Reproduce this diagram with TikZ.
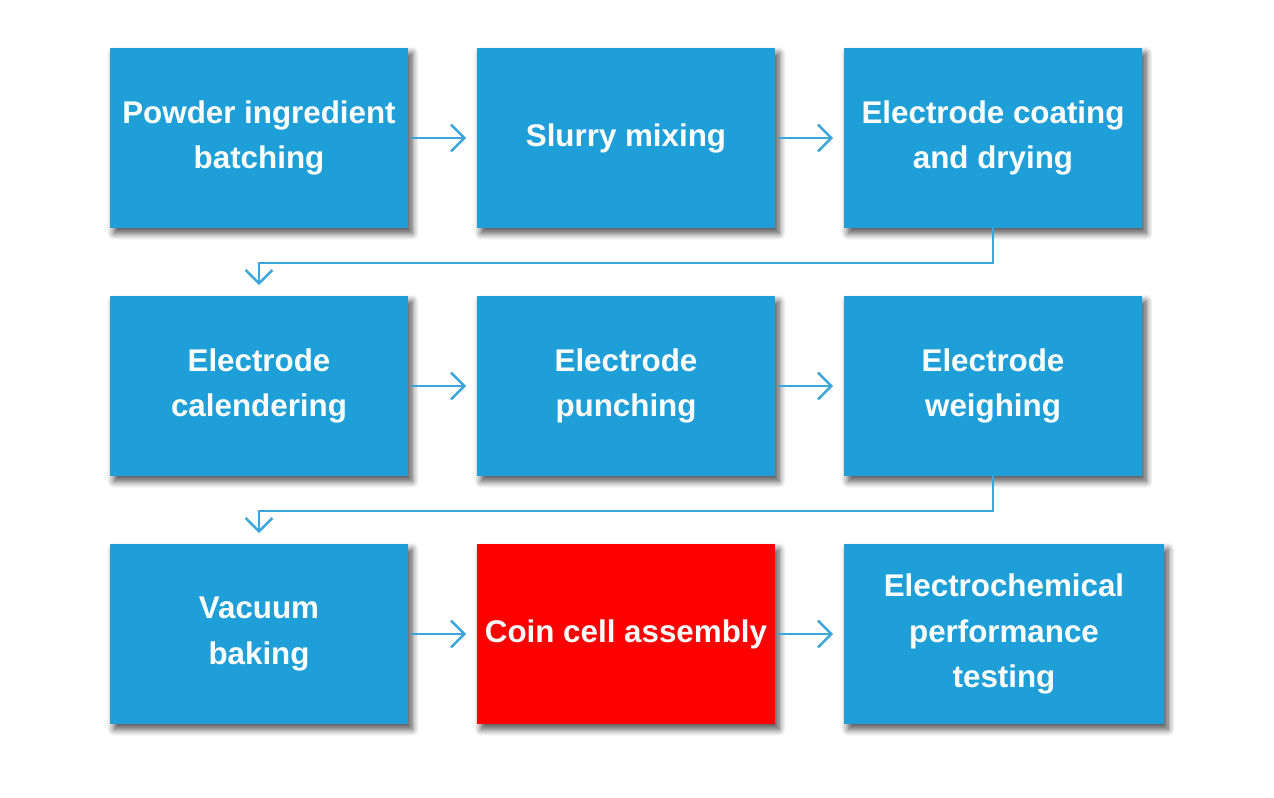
\documentclass[tikz,border=0pt]{standalone}
\usepackage{fontspec}
\setmainfont{Liberation Sans}
\usetikzlibrary{arrows.meta,shadows.blur}
\begin{document}
\begin{tikzpicture}[x=0.75pt,y=-0.75pt,
  box/.style={fill=boxc,draw=none,minimum width=298*0.75pt,minimum height=180*0.75pt,inner sep=0pt,
    align=center,text=white,font=\fontsize{23.5}{34}\selectfont\bfseries,
    blur shadow={shadow xshift=3pt,shadow yshift=-4pt,shadow blur radius=5pt,shadow blur steps=8,shadow opacity=70}},
  conn/.style={draw=arrc,line width=1.8pt,-{Straight Barb[length=10pt,width=20pt,line width=1.8pt]}}]
\definecolor{boxc}{HTML}{1E9FD8}
\definecolor{arrc}{HTML}{3AA6DC}
\definecolor{redc}{HTML}{FF0000}
\useasboundingbox (0,0) rectangle (1274,798);
\node[box] (a) at (259,138) {Powder ingredient\\batching};
\node[box] (b) at (626,138) {Slurry mixing};
\node[box] (c) at (993,138) {Electrode coating\\and drying};
\node[box] (d) at (259,386) {Electrode \\calendering};
\node[box] (e) at (626,386) {Electrode\\punching};
\node[box] (f) at (993,386) {Electrode\\weighing};
\node[box] (g) at (259,634) {Vacuum\\baking};
\node[box,fill=redc] (h) at (626,634) {Coin cell assembly};
\node[box,minimum width=320*0.75pt] (i) at (1004,634) {Electrochemical\\performance\\testing};
\draw[conn] ([xshift=2pt]a.east) -- ([xshift=-8pt]b.west);
\draw[conn] ([xshift=2pt]b.east) -- ([xshift=-8pt]c.west);
\draw[conn] ([xshift=2pt]d.east) -- ([xshift=-8pt]e.west);
\draw[conn] ([xshift=2pt]e.east) -- ([xshift=-8pt]f.west);
\draw[conn] ([xshift=2pt]g.east) -- ([xshift=-8pt]h.west);
\draw[conn] ([xshift=2pt]h.east) -- ([xshift=-8pt]i.west);
\draw[conn] (c.south) -- ++(0,35) -| ([yshift=8pt]d.north);
\draw[conn] (f.south) -- ++(0,35) -| ([yshift=8pt]g.north);
\end{tikzpicture}
\end{document}
